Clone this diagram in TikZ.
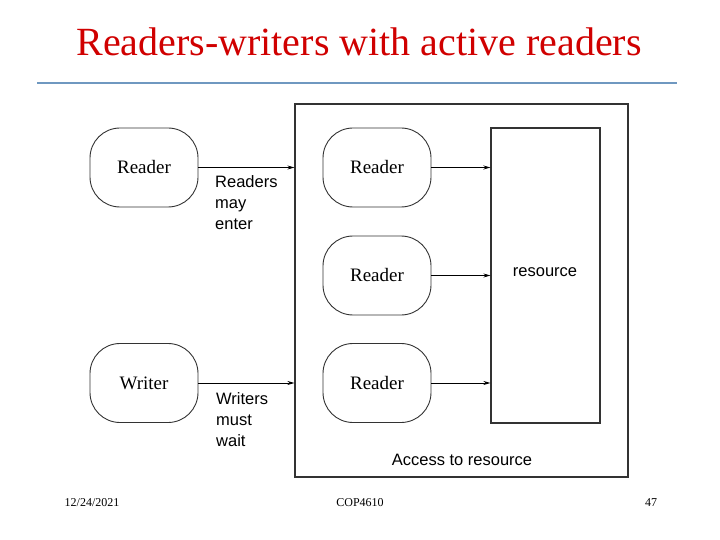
\documentclass[tikz,border=0pt]{standalone}
\usepackage{fontspec}
\setmainfont{Liberation Serif}
\setsansfont{Liberation Sans}
\usetikzlibrary{arrows.meta}
\definecolor{titlered}{HTML}{D00000}
\definecolor{rulecol}{HTML}{6F98C0}
\definecolor{boxcol}{HTML}{333333}
\begin{document}
\begin{tikzpicture}[x=1pt,y=-1pt,
  actor/.style={draw=boxcol,line width=0.9pt,rounded corners=30pt,minimum width=108pt,minimum height=79pt,font=\fontsize{19}{19}\selectfont\rmfamily,inner sep=0pt},
  lbl/.style={font=\fontsize{16.5}{21}\selectfont\sffamily,align=left,anchor=north west,inner sep=0pt},
  arr/.style={-{Stealth[length=7pt,width=4pt]},line width=0.8pt},
  foot/.style={font=\fontsize{12}{12}\selectfont\rmfamily,inner sep=0pt}]
\useasboundingbox (0,0) rectangle (720,540);
\node[text=titlered,font=\fontsize{40}{40}\selectfont\rmfamily,inner sep=0pt] (title) at (359,42) {Readers-writers with active readers};
\draw[rulecol,line width=2pt] (37,83) coordinate (r1) -- (677,83) coordinate (r2);
% outer region
\node[draw=boxcol,line width=1.2pt,minimum width=333pt,minimum height=373pt,inner sep=0pt] (outer) at (461.5,290.5) {};
\node[draw=boxcol,line width=1.2pt,minimum width=109pt,minimum height=295pt,inner sep=0pt] (res) at (545.5,275.5) {};
\node[font=\fontsize{16.5}{16}\selectfont\sffamily,inner sep=0pt] (restext) at (545,272) {resource};
\node[font=\fontsize{16.5}{16}\selectfont\sffamily,inner sep=0pt] (acc) at (462,460) {Access to resource};
% actors
\node[actor] (rout) at (144,167.5) {Reader};
\node[actor] (wout) at (144,383) {Writer};
\node[actor] (r1in) at (377,167.5) {Reader};
\node[actor] (r2in) at (377,275.5) {Reader};
\node[actor] (r3in) at (377,383) {Reader};
% arrows
\draw[arr] (rout.east) -- (rout.east -| outer.west);
\draw[arr] (wout.east) -- (wout.east -| outer.west);
\draw[arr,line width=1.2pt] (r1in.east) -- (r1in.east -| res.west);
\draw[arr] (r2in.east) -- (r2in.east -| res.west);
\draw[arr] (r3in.east) -- (r3in.east -| res.west);
% labels
\node[lbl] (lre) at (215,175) {Readers\\may\\enter};
\node[lbl] (lwm) at (216,392) {Writers\\must\\wait};
% footer
\node[foot] (date) at (92,503) {12/24/2021};
\node[foot] (course) at (360,503) {COP4610};
\node[foot] (page) at (651,503) {47};
\end{tikzpicture}
\end{document}
